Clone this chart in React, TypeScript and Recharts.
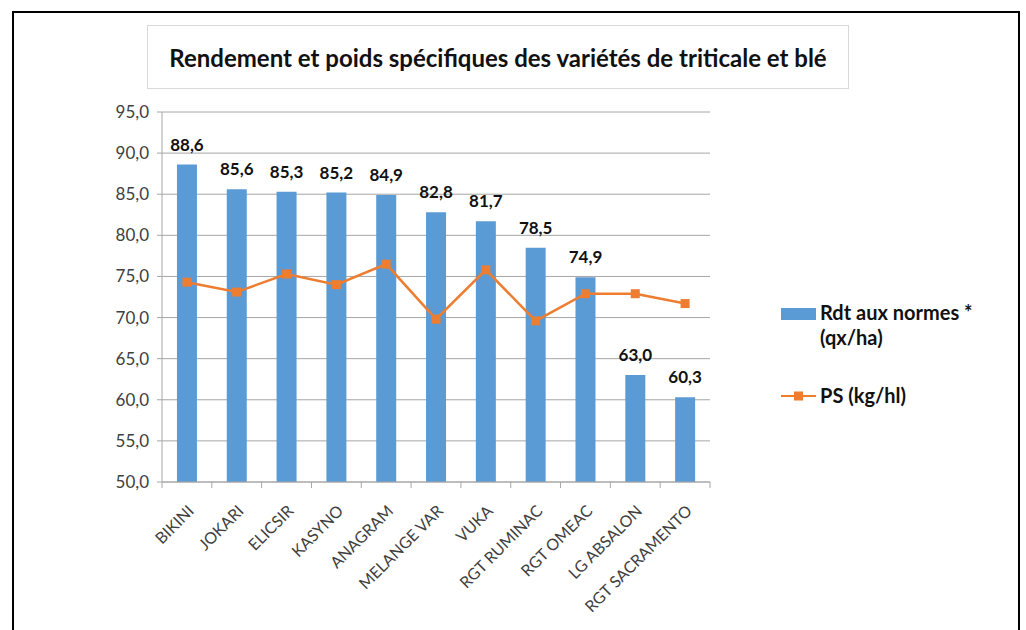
import React from 'react';
import {
  ComposedChart,
  Bar,
  Line,
  XAxis,
  YAxis,
  CartesianGrid,
  LabelList,
} from 'recharts';

const varieties = [
  'BIKINI',
  'JOKARI',
  'ELICSIR',
  'KASYNO',
  'ANAGRAM',
  'MELANGE VAR',
  'VUKA',
  'RGT RUMINAC',
  'RGT OMEAC',
  'LG ABSALON',
  'RGT SACRAMENTO',
];
const rendement = [88.6, 85.6, 85.3, 85.2, 84.9, 82.8, 81.7, 78.5, 74.9, 63.0, 60.3];
const poidsSpecifique = [74.3, 73.1, 75.3, 74.0, 76.5, 69.8, 75.8, 69.6, 72.9, 72.9, 71.7];
const yTicks = [50, 55, 60, 65, 70, 75, 80, 85, 90, 95];

const data = varieties.map((name, i) => ({
  name,
  rdt: rendement[i],
  ps: poidsSpecifique[i],
}));

const BLUE = '#5B9BD5';
const ORANGE = '#ED7D31';
const FONT = 'Lato, "Open Sans", sans-serif';
const comma = (v: number) => v.toFixed(1).replace('.', ',');

const HALF_BAND = 548 / varieties.length / 2;

// Excel style: tick marks between categories, labels rotated -45°
const CategoryTick = ({ x, y, payload, index }: any) => (
  <g>
    {index === 0 && (
      <line x1={x - HALF_BAND} y1={y - 8} x2={x - HALF_BAND} y2={y - 2} stroke="#a6a6a6" />
    )}
    <line x1={x + HALF_BAND} y1={y - 8} x2={x + HALF_BAND} y2={y - 2} stroke="#a6a6a6" />
    <text
      x={x + 8}
      y={y + 22}
      textAnchor="end"
      transform={`rotate(-45, ${x + 8}, ${y + 22})`}
      fontSize={16}
      fill="#404040"
      fontFamily={FONT}
    >
      {payload.value}
    </text>
  </g>
);

const SquareDot = ({ cx, cy }: any) => (
  <rect x={cx - 4.5} y={cy - 4.5} width={9} height={9} fill={ORANGE} />
);

const LegendBox = () => (
  <div
    style={{
      position: 'absolute',
      left: 781,
      top: 300,
      fontFamily: FONT,
      fontWeight: 700,
      fontSize: 20,
      color: '#111',
      lineHeight: '25px',
    }}
  >
    <div style={{ display: 'flex', alignItems: 'flex-start' }}>
      <span style={{ display: 'inline-block', width: 35, height: 12, background: BLUE, marginTop: 8, marginRight: 4 }} />
      <span>
        Rdt aux normes *<br />(qx/ha)
      </span>
    </div>
    <div style={{ display: 'flex', alignItems: 'center', marginTop: 33 }}>
      <svg width={35} height={12} style={{ marginRight: 4 }}>
        <line x1={0} y1={6} x2={35} y2={6} stroke={ORANGE} strokeWidth={2} />
        <rect x={13} y={1.5} width={9} height={9} fill={ORANGE} />
      </svg>
      <span>PS (kg/hl)</span>
    </div>
  </div>
);

export default function App() {
  return (
    <div style={{ position: 'absolute', left: 0, top: 0, width: 1026, height: 630, background: '#fff', overflow: 'hidden' }}>
      <div
        style={{
          position: 'absolute',
          left: 12,
          top: 11,
          width: 1004,
          height: 640,
          border: '2px solid #000',
        }}
      />
      <div
        style={{
          position: 'absolute',
          left: 147,
          top: 25,
          width: 700,
          height: 62,
          border: '1px solid #d9d9d9',
          display: 'flex',
          alignItems: 'center',
          justifyContent: 'center',
          fontFamily: FONT,
          fontWeight: 700,
          fontSize: 24,
          color: '#111',
        }}
      >
        Rendement et poids spécifiques des variétés de triticale et blé
      </div>
      <div style={{ position: 'absolute', left: 0, top: 0 }}>
        <ComposedChart
          width={1026}
          height={630}
          data={data}
          margin={{ top: 112, right: 316, left: 102, bottom: 28 }}
          barCategoryGap="30%"
        >
          <CartesianGrid vertical={false} stroke="#a6a6a6" />
          <XAxis
            dataKey="name"
            interval={0}
            height={120}
            tickLine={false}
            axisLine={{ stroke: '#a6a6a6' }}
            tick={<CategoryTick />}
          />
          <YAxis
            domain={[50, 95]}
            ticks={yTicks}
            width={60}
            tickFormatter={comma}
            axisLine={{ stroke: '#a6a6a6' }}
            tickLine={{ stroke: '#a6a6a6' }}
            tickSize={5}
            tickMargin={8}
            tick={{ fontSize: 17, fill: '#404040', fontFamily: FONT }}
          />
          <Bar dataKey="rdt" name="Rdt aux normes * (qx/ha)" fill={BLUE} isAnimationActive={false}>
            <LabelList
              dataKey="rdt"
              position="top"
              offset={14}
              formatter={(v: any) => comma(Number(v))}
              style={{ fontSize: 17, fontWeight: 700, fill: '#111', fontFamily: FONT }}
            />
          </Bar>
          <Line
            dataKey="ps"
            name="PS (kg/hl)"
            stroke={ORANGE}
            strokeWidth={2.5}
            dot={<SquareDot />}
            activeDot={false}
            isAnimationActive={false}
          />
        </ComposedChart>
      </div>
      <LegendBox />
    </div>
  );
}
